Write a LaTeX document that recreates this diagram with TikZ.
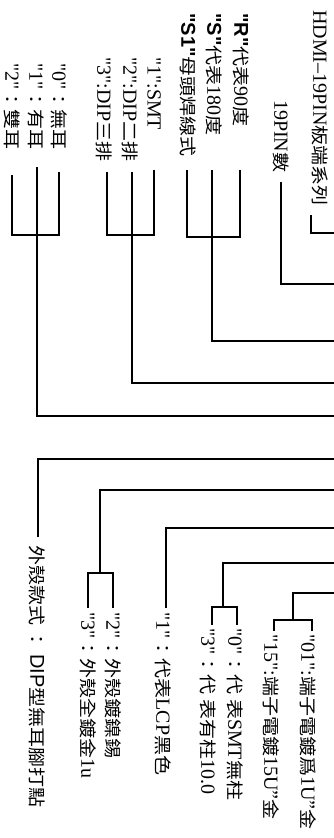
\documentclass[tikz,border=0pt]{standalone}
\usepackage{fontspec}
\setmainfont{Liberation Serif}[Ligatures=TeXOff]
\setsansfont{Liberation Sans}[Ligatures=TeXOff]
\newfontfamily\cjk[Scale=0.87,FakeStretch=1.15]{Noto Sans CJK TC}
\newcommand{\zh}[1]{{\cjk #1}}
\usetikzlibrary{positioning,calc}

\begin{document}
\begin{tikzpicture}[
            x=1pt, y=-1pt,
            lab/.style={rotate=-90, anchor=west, inner sep=0pt, font=\fontsize{20}{24}\selectfont},
            ln/.style={line width=1.2pt}
        ]

\fill[white] (0,0) rectangle (334,838);
\useasboundingbox (0,0) rectangle (334,838);

% --- upper labels ---
            \node[lab] (hdmi) at (320,10) {HDMI–19PIN\zh{板端系列}};
            \node[lab] (pin) at (281,100) {19PIN\zh{數}};

            \node[lab] (r) at (241,13) {{\sffamily\bfseries "R"}\zh{代表}90\zh{度}};
            \node[lab] (s) at (214,13) {{\sffamily\bfseries "S"}\zh{代表}180\zh{度}};
            \node[lab] (sa) at (188,13) {{\sffamily\bfseries "S1"}\zh{母頭焊線式}};

            \node[lab] (smt) at (154,57) {"1":SMT};
            \node[lab] (dip2) at (130,57) {"2":DIP\zh{二排}};
            \node[lab] (dip3) at (104,57) {"3":DIP\zh{三排}};

            \node[lab] (e0) at (59,63) {"0"\zh{：無耳}};
            \node[lab] (e1) at (36,63) {"1"\zh{：有耳}};
            \node[lab] (e2) at (12,63) {"2"\zh{：雙耳}};

% --- lower labels ---
            \node[lab] (shell) at (37,545) {\zh{外殼款式 ： }{\sffamily DIP}\zh{型無耳腳打點}};
            \node[lab] (c2) at (113,612) {"2"\zh{：外殼鍍鎳錫}};
            \node[lab] (c3) at (88,612) {"3"\zh{：外殼全鍍金}1u};
            \node[lab] (lcp) at (163,612) {"1"\zh{：代表}LCP\zh{黑色}};
            \node[lab] (p0) at (235,628) {"0"\zh{：代 表}SMT\zh{無柱}};
            \node[lab] (p3) at (208,628) {"3"\zh{：代 表有柱}10.0};
            \node[lab] (g01) at (308,634) {"01":\zh{端子電鍍爲}1U”\zh{金}};
            \node[lab] (g15) at (271,634) {"15":\zh{端子電鍍}15U”\zh{金}};

% --- upper junctions ---
            \coordinate (hdmiA) at (311,215);
            \coordinate (hdmiB) at (311,233);
            \coordinate (hdmiE) at (334,233);

            \coordinate (pinA) at (281,182);
            \coordinate (pinB) at (281,284);
            \coordinate (pinE) at (334,284);

            \coordinate (rA) at (240,170);
            \coordinate (rB) at (240,237);
            \coordinate (sA) at (212,170);
            \coordinate (sB) at (212,237);
            \coordinate (saA) at (187,170);
            \coordinate (saB) at (187,237);
            \coordinate (rsB) at (212,341);
            \coordinate (rsE) at (334,341);

            \coordinate (smtA) at (154,170);
            \coordinate (smtB) at (154,235);
            \coordinate (dip2A) at (132,172);
            \coordinate (dip2B) at (132,235);
            \coordinate (dip3A) at (107,172);
            \coordinate (dip3B) at (107,235);
            \coordinate (dipB) at (132,383);
            \coordinate (dipE) at (334,383);

            \coordinate (e0A) at (59,172);
            \coordinate (e0B) at (59,235);
            \coordinate (e1A) at (37,167);
            \coordinate (e1B) at (37,235);
            \coordinate (e2A) at (12,175);
            \coordinate (e2B) at (12,235);
            \coordinate (earB) at (37,416);
            \coordinate (earE) at (334,416);

% --- lower junctions ---
            \coordinate (shellA) at (38,537);
            \coordinate (shellB) at (38,459);
            \coordinate (shellE) at (334,459);

            \coordinate (cB) at (100,490);
            \coordinate (cE) at (334,490);
            \coordinate (cM) at (100,573);
            \coordinate (c2B) at (113,573);
            \coordinate (c2A) at (113,608);
            \coordinate (c3B) at (88,573);
            \coordinate (c3A) at (88,608);

            \coordinate (lcpA) at (166,608);
            \coordinate (lcpB) at (166,528);
            \coordinate (lcpE) at (334,528);

            \coordinate (pB) at (223,563);
            \coordinate (pE) at (334,563);
            \coordinate (pM) at (223,607);
            \coordinate (p0B) at (237,607);
            \coordinate (p0A) at (237,625);
            \coordinate (p3B) at (212,607);
            \coordinate (p3A) at (212,625);

            \coordinate (gB) at (293,593);
            \coordinate (gE) at (334,593);
            \coordinate (gM) at (293,620);
            \coordinate (g01B) at (312,620);
            \coordinate (g01A) at (312,631);
            \coordinate (g15B) at (274,620);
            \coordinate (g15A) at (274,631);

% --- upper brackets ---
            \draw[ln] (hdmiA)--(hdmiB)--(hdmiE);
            \draw[ln] (pinA)--(pinB)--(pinE);

            \draw[ln] (rA)--(rB)--(saB)--(saA);
            \draw[ln] (sA)--(sB)--(rsB)--(rsE);

            \draw[ln] (smtA)--(smtB)--(dip3B)--(dip3A);
            \draw[ln] (dip2A)--(dip2B)--(dipB)--(dipE);

            \draw[ln] (e0A)--(e0B)--(e2B)--(e2A);
            \draw[ln] (e1A)--(e1B)--(earB)--(earE);

% --- lower brackets ---
            \draw[ln] (shellA)--(shellB)--(shellE);

            \draw[ln] (cE)--(cB)--(cM);
            \draw[ln] (c2A)--(c2B)--(c3B)--(c3A);

            \draw[ln] (lcpA)--(lcpB)--(lcpE);

            \draw[ln] (pE)--(pB)--(pM);
            \draw[ln] (p0A)--(p0B)--(p3B)--(p3A);

            \draw[ln] (gE)--(gB)--(gM);
            \draw[ln] (g01A)--(g01B)--(g15B)--(g15A);

        \end{tikzpicture}
\end{document}
